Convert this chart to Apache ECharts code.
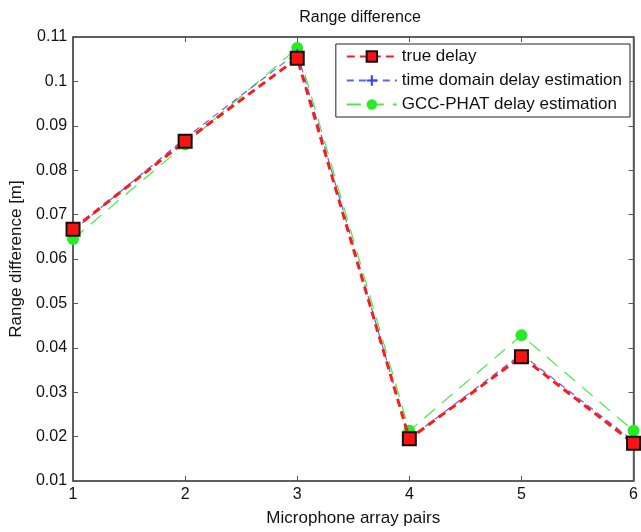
<!DOCTYPE html>
<html>
<head>
<meta charset="utf-8">
<script src="https://cdn.jsdelivr.net/npm/echarts@6/dist/echarts.min.js"></script>
<style>
  html, body { margin: 0; padding: 0; background: #fff; }
  #main { width: 641px; height: 532px; }
</style>
</head>
<body>
<div id="main"></div>
<script>
var pairs = [1, 2, 3, 4, 5, 6];
var trueDelay = [0.0667, 0.0865, 0.1052, 0.0195, 0.0380, 0.0185];
var timeDomain = [0.0664, 0.0872, 0.1065, 0.0196, 0.0386, 0.0190];
var gccPhat = [0.0645, 0.0858, 0.1075, 0.0213, 0.0428, 0.0213];

function toPoints(vals) {
    return pairs.map(function (p, i) { return [p, vals[i]]; });
}

var font = 'Liberation Sans, Arial, sans-serif';
var axisCol = '#555';

var myChart = echarts.init(document.getElementById('main'));

var option = {
    backgroundColor: '#fff',
    animation: false,
    textStyle: { fontFamily: font },
    title: {
        text: 'Range difference',
        left: 355,
        top: 5,
        textAlign: 'center',
        textStyle: { fontSize: 16, fontWeight: 'normal', color: '#111', fontFamily: font }
    },
    legend: {
        right: 11,
        top: 44,
        orient: 'vertical',
        itemWidth: 50,
        itemHeight: 13,
        itemGap: 7,
        padding: [4, 8, 4, 10],
        borderColor: '#222',
        borderWidth: 1,
        borderRadius: 0,
        backgroundColor: '#fff',
        textStyle: { fontSize: 17, color: '#111', fontFamily: font },
        data: ['true delay', 'time domain delay estimation', 'GCC-PHAT delay estimation']
    },
    grid: {
        left: 71,
        right: 3,
        top: 37,
        bottom: 49,
        show: true,
        borderColor: axisCol,
        borderWidth: 1.5
    },
    xAxis: [{
        type: 'value',
        min: 1,
        max: 6,
        interval: 1,
        name: 'Microphone array pairs',
        nameLocation: 'middle',
        nameGap: 29,
        nameTextStyle: { fontSize: 17, color: '#111' },
        axisLine: { lineStyle: { color: axisCol, width: 1.5 } },
        axisTick: { inside: true, length: 5, lineStyle: { color: axisCol } },
        axisLabel: { fontSize: 16, color: '#111', margin: 6 },
        splitLine: { show: false }
    }, {
        type: 'value',
        position: 'top',
        min: 1,
        max: 6,
        interval: 1,
        axisLine: { lineStyle: { color: axisCol, width: 1.5 } },
        axisTick: { inside: true, length: 5, lineStyle: { color: axisCol } },
        axisLabel: { show: false },
        splitLine: { show: false }
    }],
    yAxis: [{
        type: 'value',
        min: 0.01,
        max: 0.11,
        interval: 0.01,
        name: 'Range difference [m]',
        nameLocation: 'middle',
        nameGap: 46,
        nameTextStyle: { fontSize: 17, color: '#111' },
        axisLine: { show: true, lineStyle: { color: axisCol, width: 1.5 } },
        axisTick: { show: true, inside: true, length: 5, lineStyle: { color: axisCol } },
        axisLabel: {
            fontSize: 16, color: '#111', margin: 6,
            formatter: function (v) { return String(parseFloat(v.toFixed(2))); }
        },
        splitLine: { show: false }
    }, {
        type: 'value',
        position: 'right',
        min: 0.01,
        max: 0.11,
        interval: 0.01,
        axisLine: { show: true, lineStyle: { color: axisCol, width: 1.5 } },
        axisTick: { show: true, inside: true, length: 5, lineStyle: { color: axisCol } },
        axisLabel: { show: false },
        splitLine: { show: false }
    }],
    series: [
        {
            name: 'time domain delay estimation',
            type: 'line',
            z: 3,
            data: toPoints(timeDomain),
            symbol: 'path://M4,0 L6,0 L6,4 L10,4 L10,6 L6,6 L6,10 L4,10 L4,6 L0,6 L0,4 L4,4 Z',
            symbolSize: 7,
            itemStyle: { color: '#3344ff' },
            lineStyle: { color: '#5566ff', width: 1.2, type: [7, 5] }
        },
        {
            name: 'GCC-PHAT delay estimation',
            type: 'line',
            z: 2,
            data: toPoints(gccPhat),
            symbol: 'circle',
            symbolSize: 12,
            itemStyle: { color: '#22ee22' },
            lineStyle: { color: '#44ee44', width: 1.2, type: [14, 9] }
        },
        {
            name: 'true delay',
            type: 'line',
            z: 4,
            data: toPoints(trueDelay),
            symbol: 'rect',
            symbolSize: 13,
            itemStyle: { color: '#ff1111', borderColor: '#111', borderWidth: 2 },
            lineStyle: { color: '#ff1a1a', width: 3, type: [8, 5] }
        }
    ]
};

myChart.setOption(option);
</script>
</body>
</html>
